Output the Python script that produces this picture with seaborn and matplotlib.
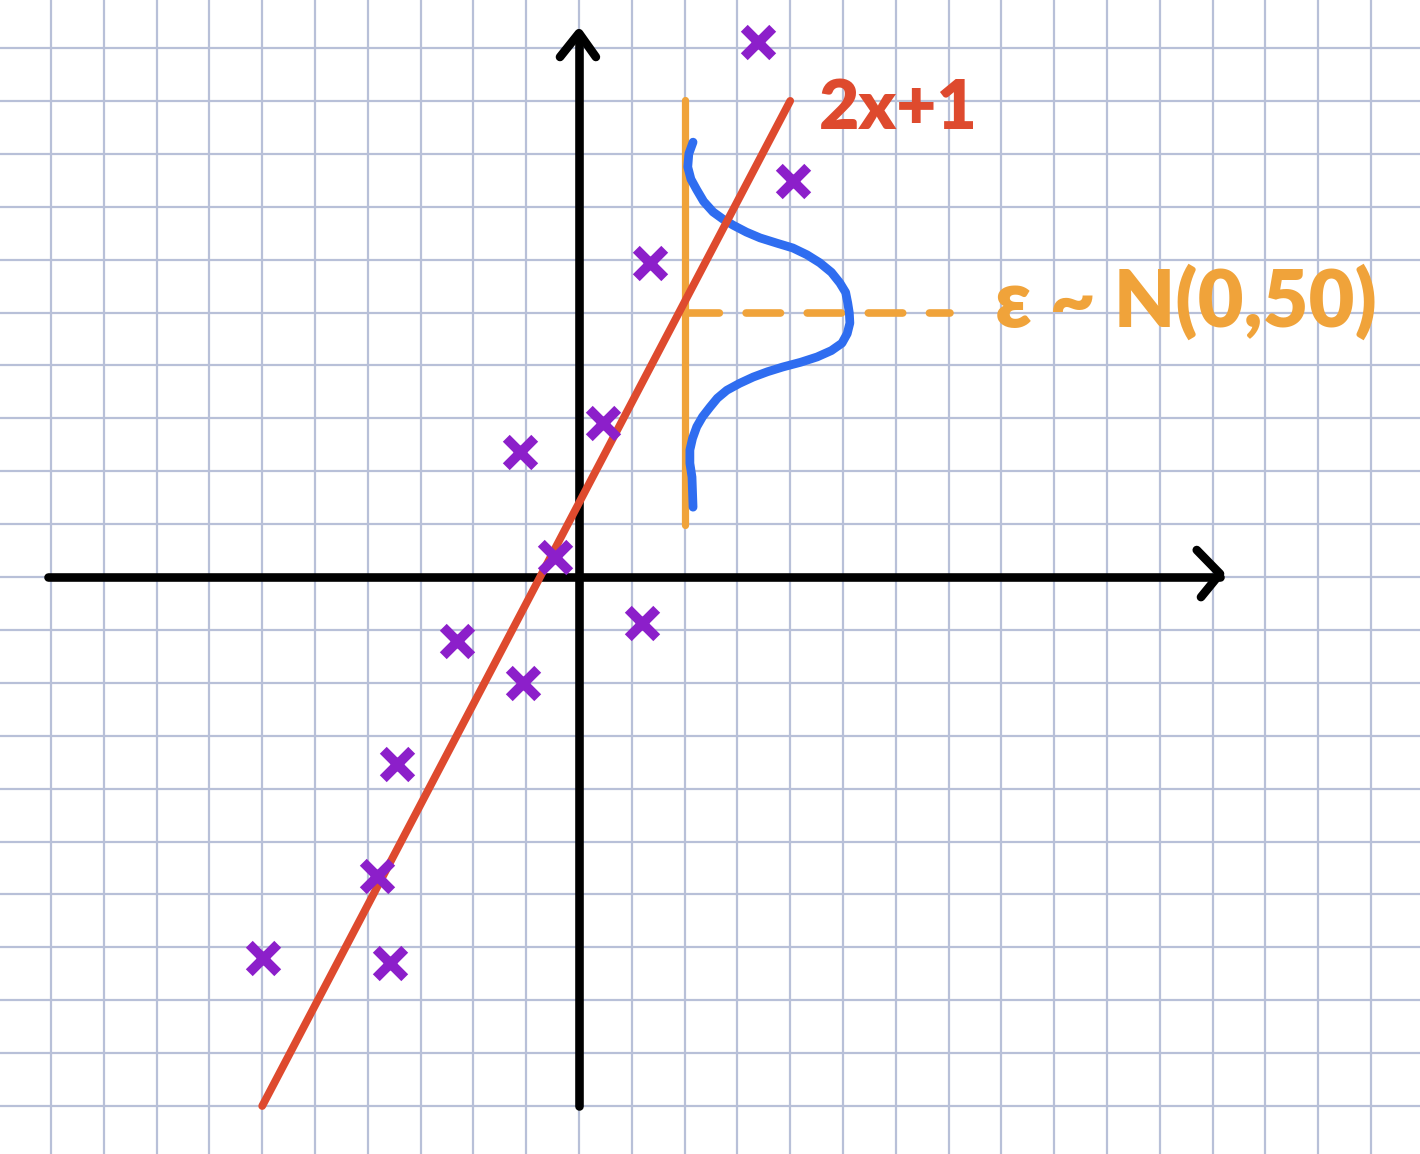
import numpy as np
import pandas as pd
import seaborn as sns
import matplotlib.pyplot as plt

sns.set_theme(style="whitegrid")
plt.rcParams['font.family'] = ['Lato', 'DejaVu Sans']

pts_x = [3.39, 4.05, 1.34, 0.45, -1.12, -0.45, 1.19, -2.31, -1.06, -3.45, -3.83, -5.98, -3.58]
pts_y = [10.11, 7.49, 5.94, 2.91, 2.36, 0.38, -0.87, -1.21, -2.00, -3.54, -5.65, -7.20, -7.30]

# reta 2x+1 (extremos desenhados)
reta_x = [-6.0, 4.0]
reta_y = [-10.0, 9.0]

# curva do ruído (desenhada à mão sobre x = 2)
curva_x = [2.16, 2.08, 2.06, 2.12, 2.23, 2.36, 2.54, 2.72, 2.92, 3.17, 3.43, 3.75, 4.05,
           4.32, 4.56, 4.78, 4.94, 5.05, 5.09, 5.12, 5.13, 5.08, 4.98, 4.78, 4.51,
           4.20, 3.86, 3.57, 3.30, 3.04, 2.80, 2.62, 2.48, 2.34, 2.23, 2.15, 2.10,
           2.10, 2.14, 2.16]
curva_y = [8.22, 8.00, 7.75, 7.52, 7.32, 7.10, 6.90, 6.77, 6.65, 6.52, 6.41, 6.31, 6.22,
           6.09, 5.94, 5.76, 5.56, 5.38, 5.18, 4.99, 4.80, 4.60, 4.42, 4.28, 4.16,
           4.06, 3.97, 3.88, 3.78, 3.66, 3.53, 3.38, 3.21, 3.03, 2.84, 2.62, 2.40,
           2.15, 1.89, 1.32]

# linha vertical laranja e tracejado
vert_x = [2.0, 2.0]
vert_y = [0.98, 9.02]
trac_x = [2.0, 7.03]
trac_y = [4.99, 4.99]

# eixos desenhados
eixo_x = [-10.06, 12.14]
eixo_y = [-10.0, 10.25]
seta_x = ([11.70, 12.14, 11.78], [0.51, 0.06, -0.38])
seta_y = ([-0.36, 0.0, 0.32], [9.83, 10.28, 9.83])

rotulo_reta = "2x+1"
rotulo_ruido = "ε ~ N(0,50)"

VERMELHO = "#de4a2e"
LARANJA = "#f0a33a"
AZUL = "#2f6df0"
ROXO = "#8c1fca"
GRADE = "#b8c0d8"

fig = plt.figure(figsize=(14.2, 11.54), dpi=100)
ax = fig.add_axes([0, 0, 1, 1])
ax.set_xlim(-579 / 52.8, (1420 - 579) / 52.8)
ax.set_ylim(-577 / 52.9, 577 / 52.9)
ax.set_xticks(np.arange(-10, 16))
ax.set_yticks(np.arange(-10, 11))
ax.set_xticklabels([])
ax.set_yticklabels([])
ax.tick_params(length=0)
ax.grid(True, color=GRADE, linewidth=1.6)
for s in ax.spines.values():
    s.set_visible(False)
ax.set_facecolor("white")

# eixos pretos
kw = dict(color="black", linewidth=6.2, solid_capstyle="round", solid_joinstyle="round")
ax.plot(eixo_x, [0, 0], **kw)
ax.plot([0, 0], eixo_y, **kw)
ax.plot(*seta_x, **kw)
ax.plot(*seta_y, **kw)

# laranja
ax.plot(vert_x, vert_y, color=LARANJA, linewidth=5.2, solid_capstyle="round")
ax.plot(trac_x, trac_y, color=LARANJA, linewidth=5.5, dash_capstyle="round",
        linestyle=(0, (4.5, 3.5)))

# curva azul
df_curva = pd.DataFrame({"x": curva_x, "y": curva_y})
sns.lineplot(data=df_curva, x="x", y="y", sort=False, estimator=None, ax=ax,
             color=AZUL, linewidth=6.3, solid_capstyle="round", solid_joinstyle="round")

# reta vermelha
df_reta = pd.DataFrame({"x": reta_x, "y": reta_y})
sns.lineplot(data=df_reta, x="x", y="y", ax=ax, color=VERMELHO, linewidth=5.6,
             solid_capstyle="round")

# pontos
df_pts = pd.DataFrame({"x": pts_x, "y": pts_y})
sns.scatterplot(data=df_pts, x="x", y="y", ax=ax, marker="x", s=420,
                color=ROXO, linewidth=7, zorder=5)

ax.set_xlabel("")
ax.set_ylabel("")

ax.text(6.04, 8.83, rotulo_reta, color=VERMELHO, fontsize=50, fontweight="heavy",
        ha="center", va="center")
ax.text(11.5, 5.2, rotulo_ruido, color=LARANJA, fontsize=57, fontweight="heavy",
        ha="center", va="center")

fig.savefig("out.png", dpi=100)
